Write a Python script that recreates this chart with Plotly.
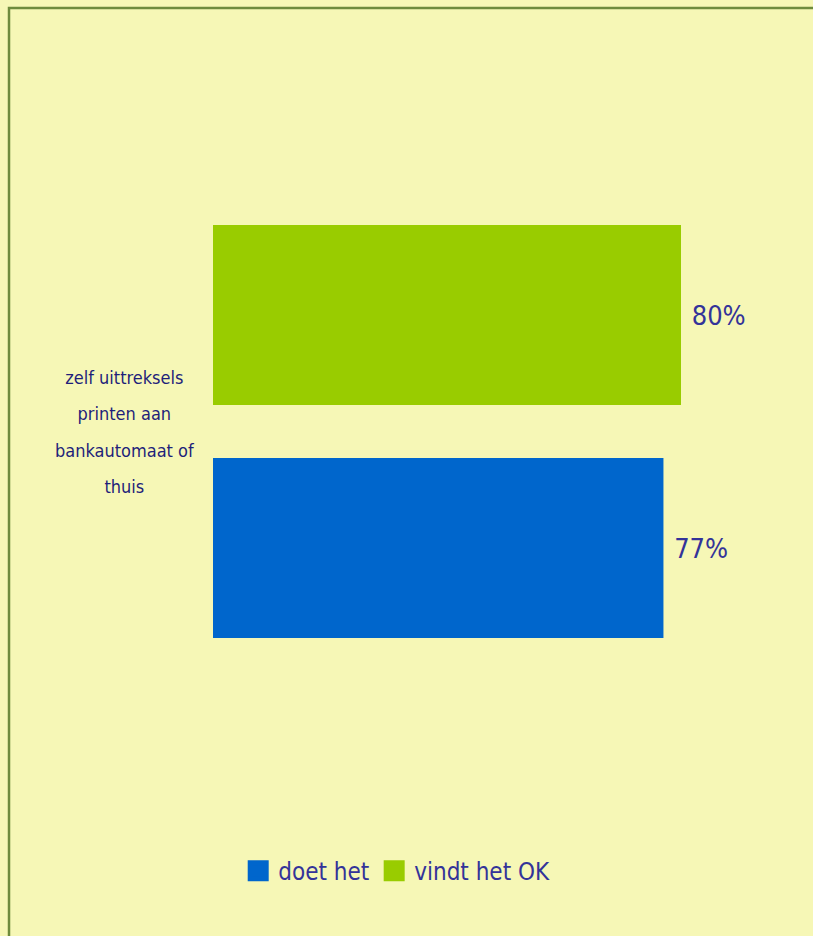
import plotly.graph_objects as go

categories = ["zelf uittreksels<br>printen aan<br>bankautomaat of<br>thuis"]
series_names = ["doet het", "vindt het OK"]
series_values = [[77], [80]]
series_colors = ["#0066CC", "#99CC00"]

FONT = "Liberation Sans Narrow, DejaVu Sans Condensed, Arial Narrow, sans-serif"
BG = "#F6F7B6"

fig = go.Figure()
for name, vals, col in zip(series_names, series_values, series_colors):
    fig.add_trace(go.Bar(
        y=categories, x=vals, orientation="h", name=name,
        marker=dict(color=col, line=dict(width=0)),
        text=["\u00a0" + f"{v}%" for v in vals], textposition="outside",
        textfont=dict(family=FONT, size=27, color="#333399"),
        cliponaxis=False, showlegend=False,
    ))
    # legend proxy
    fig.add_trace(go.Scatter(
        x=[None], y=[None], mode="markers", name=name,
        marker=dict(symbol="square", size=16, color=col, line=dict(color=col, width=5)),
        showlegend=True,
    ))

label_html = "<br>".join(
    f'<span style="font-size:18px">{line}</span>' for line in categories[0].split("<br>")
)
fig.add_annotation(
    text=label_html, xref="paper", yref="y", x=-0.150, y=categories[0],
    xanchor="center", yanchor="middle", align="center", showarrow=False,
    font=dict(family=FONT, size=28, color="#1F1F7A"),
)

fig.add_shape(type="rect", xref="paper", yref="paper",
              x0=-0.3487, x1=1.2, y0=-0.5, y1=1.1798,
              line=dict(color="#6E8B3D", width=2.5), fillcolor="rgba(0,0,0,0)", layer="below")

fig.update_layout(
    width=813, height=936,
    margin=dict(l=213, r=15, t=120, b=193),
    paper_bgcolor=BG, plot_bgcolor=BG,
    barmode="group", bargap=0.252, bargroupgap=0.2275,
    xaxis=dict(range=[0, 100], visible=False, fixedrange=True),
    yaxis=dict(visible=False, showticklabels=False, fixedrange=True),
    showlegend=True,
    legend=dict(orientation="h", xref="container", yref="container",
                x=0.293, xanchor="left", y=0.0694, yanchor="middle",
                font=dict(family=FONT, size=24, color="#333399"),
                bgcolor="rgba(0,0,0,0)", itemsizing="trace", traceorder="normal"),
    font=dict(family=FONT),
)

fig.write_html("out.html")
